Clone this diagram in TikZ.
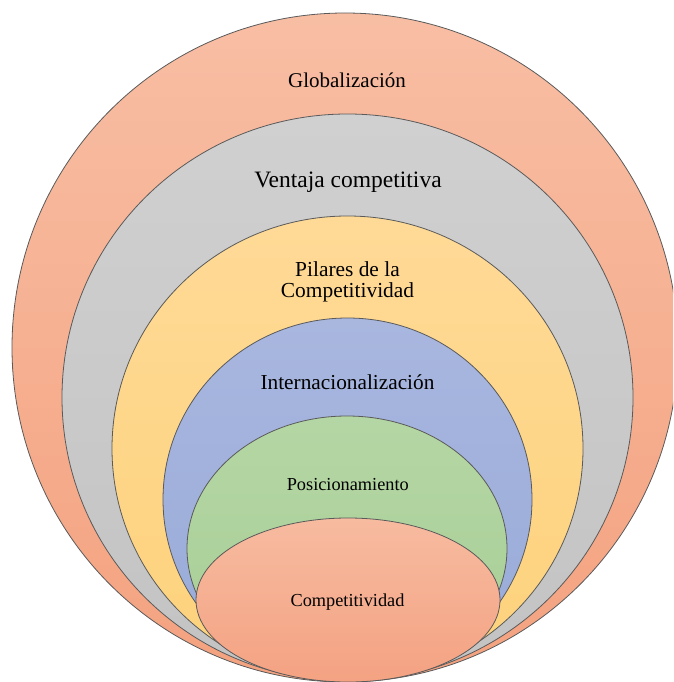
\documentclass[tikz,border=0pt]{standalone}
\usepackage{fontspec}
\setmainfont{Liberation Serif}
\usetikzlibrary{shapes.geometric}
\definecolor{globT}{HTML}{F8BEA4}\definecolor{globB}{HTML}{F4A27F}
\definecolor{grayT}{HTML}{D0D0D0}\definecolor{grayB}{HTML}{C3C3C3}
\definecolor{yelT}{HTML}{FFDA97}\definecolor{yelB}{HTML}{FDD27B}
\definecolor{bluT}{HTML}{A9B7DF}\definecolor{bluB}{HTML}{97AAD8}
\definecolor{grnT}{HTML}{B4D6A4}\definecolor{grnB}{HTML}{A8CE95}
\definecolor{comT}{HTML}{F7BBA0}\definecolor{comB}{HTML}{F4A282}
\definecolor{edge}{HTML}{5A5A5A}
\begin{document}
\begin{tikzpicture}[x=1pt,y=-1pt,
  ring/.style={ellipse, draw=edge, line width=0.8pt, inner sep=0pt, outer sep=0pt},
  lbl/.style={anchor=base, text=black, inner sep=0pt, align=center}]
\useasboundingbox (0,0) rectangle (673,682);
\clip (0,0) rectangle (673,682);
\node[ring, top color=globT, bottom color=globB, minimum width=666pt, minimum height=669pt] (glob) at (345,347.5) {};
\node[ring, top color=grayT, bottom color=grayB, minimum width=571pt, minimum height=567pt] (vent) at (347.5,397.5) {};
\node[ring, top color=yelT, bottom color=yelB, minimum width=471pt, minimum height=465pt] (pil) at (347.5,448.5) {};
\node[ring, top color=bluT, bottom color=bluB, minimum width=369pt, minimum height=363pt] (intl) at (347.5,499.5) {};
\node[ring, top color=grnT, bottom color=grnB, minimum width=320pt, minimum height=265pt] (pos) at (347,548.5) {};
\node[ring, top color=comT, bottom color=comB, minimum width=304pt, minimum height=164pt] (comp) at (348,600) {};
\node[lbl, font=\fontsize{21}{21}\selectfont] (tglob) at (347,87.7) {Globalización};
\node[lbl, font=\fontsize{23.5}{23.5}\selectfont] (tvent) at (348,187.5) {Ventaja competitiva};
\node[lbl, font=\fontsize{21.4}{21}\selectfont] (tpil) at (347.5,297) {Pilares de la\\Competitividad};
\node[lbl, font=\fontsize{21.3}{21.3}\selectfont] (tintl) at (347.5,389.3) {Internacionalización};
\node[lbl, font=\fontsize{18.3}{18.3}\selectfont] (tpos) at (347.8,490) {Posicionamiento};
\node[lbl, font=\fontsize{18.3}{18.3}\selectfont] (tcomp) at (347.5,606.7) {Competitividad};
\end{tikzpicture}
\end{document}
